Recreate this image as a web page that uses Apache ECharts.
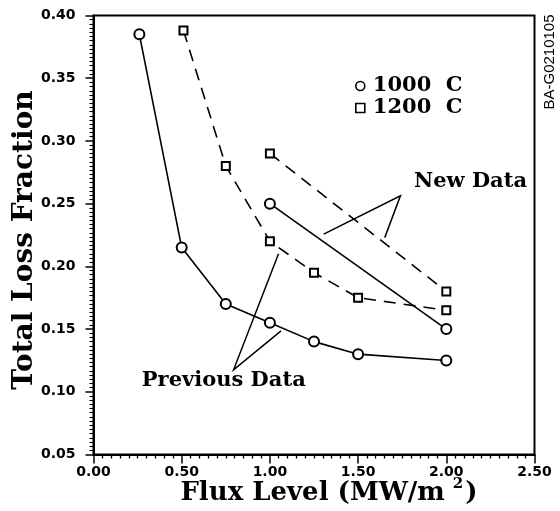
<!DOCTYPE html>
<html>
<head>
<meta charset="utf-8">
<script src="https://cdn.jsdelivr.net/npm/echarts@6/dist/echarts.min.js"></script>
<style>
  html, body { margin: 0; padding: 0; background: #fff; }
  #chart { width: 560px; height: 511px; }
</style>
</head>
<body>
<div id="chart"></div>
<script>
// Total loss fraction vs. flux level

// Previous data, 1000 C (solid line, circles)
const prev1000X = [0.26, 0.50, 0.75, 1.00, 1.25, 1.50, 2.00];
const prev1000Y = [0.385, 0.215, 0.170, 0.155, 0.140, 0.130, 0.125];

// Previous data, 1200 C (dashed line, squares)
const prev1200X = [0.51, 0.75, 1.00, 1.25, 1.50, 2.00];
const prev1200Y = [0.388, 0.280, 0.220, 0.195, 0.175, 0.165];

// New data, 1000 C (solid line, circles)
const new1000X = [1.00, 2.00];
const new1000Y = [0.250, 0.150];

// New data, 1200 C (dashed line, squares)
const new1200X = [1.00, 2.00];
const new1200Y = [0.290, 0.180];

// Axis ranges and ticks
const xTicks = [0.00, 0.50, 1.00, 1.50, 2.00, 2.50];
const yTicks = [0.05, 0.10, 0.15, 0.20, 0.25, 0.30, 0.35, 0.40];

// Callout labels and their leader lines (data units)
const calloutText = ['New Data', 'Previous Data'];
const calloutAt = [[2.137, 0.2673], [0.7385, 0.1088]];
const calloutLines = [
  [[1.305, 0.2257], [1.740, 0.2562], [1.651, 0.2229]],
  [[1.049, 0.2100], [0.794, 0.1175], [1.063, 0.1486]]
];

const pairs = (xs, ys) => xs.map((x, i) => [x, ys[i]]);

const serif = "'DejaVu Serif', 'Liberation Serif', serif";
const sans = "'DejaVu Sans', 'Liberation Sans', sans-serif";

const solid = { color: '#000', width: 1.6, type: 'solid' };
const dashed = { color: '#000', width: 1.6, type: [12, 8] };
const markStyle = { color: '#fff', borderColor: '#000', borderWidth: 2, opacity: 1 };

const chart = echarts.init(document.getElementById('chart'), null, { renderer: 'canvas' });

chart.setOption({
  animation: false,
  backgroundColor: '#fff',
  grid: {
    left: 93.5, right: 25.5, top: 15.5, bottom: 56.5,
    containLabel: false, outerBoundsMode: 'none',
    show: true, borderColor: '#000', borderWidth: 2, backgroundColor: 'transparent'
  },
  legend: {
    orient: 'vertical',
    left: 350, top: 70,
    itemWidth: 9, itemHeight: 9, itemGap: 0,
    textStyle: { fontFamily: serif, fontWeight: 'bold', fontSize: 21, color: '#000', lineHeight: 22, padding: [0, 0, 0, 3] },
    data: [
      { name: '1000 C', icon: 'circle', itemStyle: { color: '#fff', borderColor: '#000', borderWidth: 1.6 } },
      { name: '1200 C', icon: 'rect', itemStyle: { color: '#fff', borderColor: '#000', borderWidth: 1.6 } }
    ],
    formatter: n => n.replace(' ', '  ')
  },
  xAxis: {
    type: 'value',
    min: xTicks[0], max: xTicks[xTicks.length - 1], interval: 0.5,
    name: '{a|Flux Level (MW/m}{s|2}{a|)}',
    nameLocation: 'middle', nameGap: 22, nameMoveOverlap: false,
    nameTextStyle: {
      padding: [0, 0, 0, 30],
      rich: {
        a: { fontFamily: serif, fontWeight: 'bold', fontSize: 26, color: '#000', lineHeight: 30, verticalAlign: 'bottom' },
        s: { fontFamily: serif, fontWeight: 'bold', fontSize: 15, color: '#000', lineHeight: 30, verticalAlign: 'top', padding: [0, 2, 0, 8] }
      }
    },
    axisLine: { lineStyle: { color: '#000', width: 2 } },
    axisTick: { length: 9, lineStyle: { color: '#000', width: 1.5 } },
    minorTick: { show: true, splitNumber: 10, length: 4, lineStyle: { color: '#000', width: 1.3 } },
    splitLine: { show: false },
    axisLabel: {
      margin: 11, color: '#000', fontFamily: sans, fontWeight: 'bold', fontSize: 14,
      formatter: v => v.toFixed(2)
    }
  },
  yAxis: {
    type: 'value',
    min: yTicks[0], max: yTicks[yTicks.length - 1], interval: 0.05,
    name: 'Total Loss Fraction',
    nameLocation: 'middle', nameGap: 55, nameMoveOverlap: false,
    nameTextStyle: { fontFamily: serif, fontWeight: 'bold', fontSize: 28, color: '#000', padding: [0, 10, 0, 0] },
    axisLine: { lineStyle: { color: '#000', width: 2 } },
    axisTick: { length: 8, lineStyle: { color: '#000', width: 1.5 } },
    minorTick: { show: true, splitNumber: 15, length: 4, lineStyle: { color: '#000', width: 1.1 } },
    splitLine: { show: false },
    axisLabel: {
      margin: 18, color: '#000', fontFamily: sans, fontWeight: 'bold', fontSize: 14,
      formatter: v => v.toFixed(2)
    }
  },
  graphic: [{
    type: 'text',
    x: 550, y: 62,
    rotation: Math.PI / 2,
    style: {
      text: 'BA-G0210105',
      fontFamily: "'Liberation Sans Narrow', 'Liberation Sans', sans-serif",
      fontSize: 15, fill: '#000',
      align: 'center', verticalAlign: 'middle'
    }
  }],
  series: [
    {
      name: '1000 C', type: 'line', data: pairs(prev1000X, prev1000Y),
      symbol: 'circle', symbolSize: 10, itemStyle: markStyle, lineStyle: solid, z: 3
    },
    {
      name: '1200 C', type: 'line', data: pairs(prev1200X, prev1200Y),
      symbol: 'rect', symbolSize: 8, itemStyle: markStyle, lineStyle: dashed, z: 3
    },
    {
      name: '1000 C', type: 'line', data: pairs(new1000X, new1000Y),
      symbol: 'circle', symbolSize: 10, itemStyle: markStyle, lineStyle: solid, z: 3
    },
    {
      name: '1200 C', type: 'line', data: pairs(new1200X, new1200Y),
      symbol: 'rect', symbolSize: 8, itemStyle: markStyle, lineStyle: dashed, z: 3
    },
    {
      name: 'callout lines', type: 'lines', coordinateSystem: 'cartesian2d', polyline: true,
      lineStyle: { color: '#000', width: 1.5, opacity: 1 },
      data: calloutLines.map(c => ({ coords: c })), z: 2
    },
    {
      name: 'callout labels', type: 'scatter', symbolSize: 0,
      itemStyle: { opacity: 1 },
      data: calloutAt.map((p, i) => ({ value: p, label: { formatter: calloutText[i] } })),
      label: {
        show: true, position: 'inside',
        fontFamily: serif, fontWeight: 'bold', fontSize: 21, color: '#000'
      },
      z: 4
    }
  ]
});
</script>
</body>
</html>
